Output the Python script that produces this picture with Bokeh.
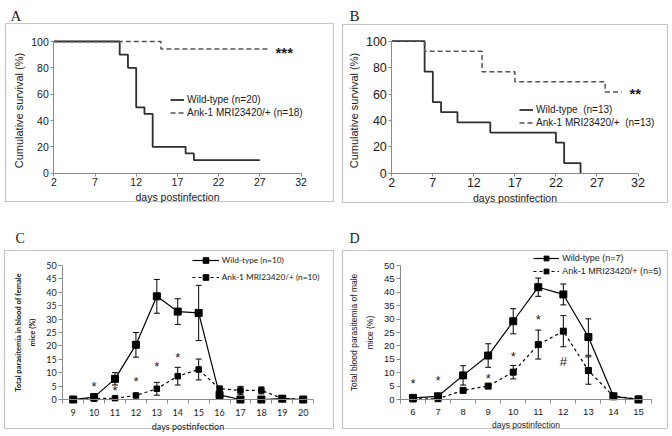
from bokeh.plotting import figure
from bokeh.layouts import gridplot
from bokeh.models import (LinearAxis, FixedTicker, BoxAnnotation, Label, Legend, LegendItem,
                          ColumnDataSource, Whisker, TeeHead, Range1d)
from bokeh.embed import file_html
from bokeh.resources import INLINE
from bokeh.core.properties import value

# ---------------- data ----------------
# Panel A: Kaplan-Meier survival (female)
A_wt_days = [2, 10, 11, 12, 13, 14, 18, 19, 27]
A_wt_surv = [100, 90, 80, 50, 45, 20, 15, 10, 10]
A_ank_days = [2, 15, 28]
A_ank_surv = [100, 94.4, 94.4]
# Panel B: Kaplan-Meier survival (male)
B_wt_days = [2, 6, 7, 8, 10, 14, 22, 23, 25]
B_wt_surv = [100, 76.9, 53.8, 46.2, 38.5, 30.8, 23.1, 7.7, 0]
B_ank_days = [2, 6, 13, 17, 28, 30]
B_ank_surv = [100, 92.3, 76.9, 69.2, 61.5, 61.5]
surv_ticks_x = [2, 7, 12, 17, 22, 27, 32]
surv_ticks_y = [0, 20, 40, 60, 80, 100]

# Panel C: parasitemia, female
C_days = [9, 10, 11, 12, 13, 14, 15, 16, 17, 18, 19, 20]
C_wt = [0, 0.9, 7.7, 20.4, 38.5, 32.8, 32.3, 1.7, 0, 0, 0.3, 0]
C_wt_err = [0, 0, 2.3, 4.6, 6.3, 4.8, 10.3, 0, 0, 0, 0, 0]
C_ank = [0, 0.3, 0.5, 1.5, 4.0, 8.7, 11.2, 4.0, 3.4, 3.4, 0.4, 0]
C_ank_err = [0, 0, 0, 0, 2.4, 3.3, 3.9, 1.0, 1.5, 1.3, 0, 0]
C_star_days = [10, 11, 12, 13, 14]
C_star_y = [5.0, 3.4, 6.7, 12.4, 15.8]

# Panel D: parasitemia, male
D_days = [6, 7, 8, 9, 10, 11, 12, 13, 14, 15]
D_wt = [0.6, 1.2, 9.0, 16.4, 29.2, 41.9, 39.2, 23.3, 1.2, 0]
D_wt_err = [0, 0, 3.6, 4.4, 4.7, 3.4, 3.9, 6.8, 0, 0]
D_ank = [0.2, 0.3, 3.4, 5.0, 10.2, 20.5, 25.5, 10.8, 1.2, 0.2]
D_ank_err = [0, 0, 0, 0, 2.5, 5.4, 5.8, 5.1, 0, 0]
D_star_days = [6, 7, 9, 10, 11]
D_star_y = [6.1, 7.1, 7.8, 16.2, 29.9]
D_hash_days = [12]
D_hash_y = [14.2]
para_ticks_y = [0, 5, 10, 15, 20, 25, 30, 35, 40, 45, 50]

# ---------------- layout helpers ----------------
W, H = 334, 216
AXC = "#8a8a8a"
TXT = "#1a1a1a"


class Map:
    """maps page pixels to data values for one panel"""
    def __init__(self, ox, oy, xa, xb, ya, yb):
        self.ox, self.oy = ox, oy
        (v0, p0), (v1, p1) = xa, xb
        self.sx, self.xv0, self.xp0 = (p1 - p0) / (v1 - v0), v0, p0
        (w0, q0), (w1, q1) = ya, yb
        self.sy, self.yv0, self.yq0 = (q1 - q0) / (w1 - w0), w0, q0

    def x(self, px):
        return self.xv0 + (px - self.xp0) / self.sx

    def y(self, py):
        return self.yv0 + (py - self.yq0) / self.sy

    def leg(self, left_px, bottom_px):
        return (left_px - self.ox, self.oy + H - bottom_px)


def make_fig(m, box, letter, letter_xy, letter_size):
    p = figure(width=W, height=H, output_backend="svg", toolbar_location=None, title=None,
               x_range=Range1d(m.x(m.ox), m.x(m.ox + W)),
               y_range=Range1d(m.y(m.oy + H), m.y(m.oy)),
               x_axis_location=None, y_axis_location=None,
               min_border=0, outline_line_color=None)
    p.grid.visible = False
    l, t, r, b = box
    l = max(l, m.ox + 1)
    r = min(r, m.ox + W - 1)
    b = min(b, m.oy + H - 1)
    p.add_layout(BoxAnnotation(left=m.x(l), right=m.x(r), top=m.y(t), bottom=m.y(b),
                               fill_color=None, line_color="#3a3a3a", line_width=1.2))
    p.add_layout(Label(x=m.x(letter_xy[0]), y=m.y(letter_xy[1]), text=letter,
                       text_font="Liberation Serif", text_font_size=letter_size,
                       text_color=TXT, text_baseline="alphabetic"))
    return p


def style_axis(ax, font, tick_size, label_size, label_style="normal", line_h=1.2):
    ax.axis_line_color = AXC
    ax.major_tick_line_color = AXC
    ax.minor_tick_line_color = AXC
    ax.major_label_text_font = font
    ax.major_label_text_font_size = tick_size
    ax.major_label_text_color = TXT
    ax.axis_label_text_font = font
    ax.axis_label_text_font_size = label_size
    ax.axis_label_text_font_style = label_style
    ax.axis_label_text_color = TXT
    ax.axis_label_text_line_height = line_h
    ax.major_tick_in = 0
    ax.minor_tick_in = 0


def survival_panel(m, box, letter, letter_xy, wt_x, wt_y, ank_x, ank_y, labels, star, star_xy,
                   leg_px, tick_size, ylabel):
    p = make_fig(m, box, letter, letter_xy, "15px")
    yax = LinearAxis(fixed_location=2, bounds=(0, 100), ticker=FixedTicker(ticks=surv_ticks_y),
                     axis_label=ylabel, major_tick_out=3, minor_tick_out=0,
                     major_label_standoff=2, axis_label_standoff=3)
    style_axis(yax, "Liberation Sans", tick_size, "11px")
    p.add_layout(yax, "left")
    xax = LinearAxis(fixed_location=0, bounds=(2, 32), ticker=FixedTicker(ticks=surv_ticks_x),
                     axis_label="days postinfection", major_tick_out=3, minor_tick_out=0,
                     major_label_standoff=2, axis_label_standoff=1)
    style_axis(xax, "Liberation Sans", tick_size, "10.5px")
    p.add_layout(xax, "below")
    r1 = p.step(wt_x, wt_y, mode="after", line_color="#2e2e2e", line_width=1.8)
    r2 = p.step(ank_x, ank_y, mode="after", line_color="#555555", line_width=1.5, line_dash="5 3")
    p.add_layout(Label(x=m.x(star_xy[0]), y=m.y(star_xy[1]), text=star, text_font="Liberation Sans",
                       text_font_size="15px", text_font_style="bold", text_color=TXT,
                       text_baseline="alphabetic"))
    leg = Legend(items=[LegendItem(label=labels[0], renderers=[r1]),
                        LegendItem(label=labels[1], renderers=[r2])],
                 location=m.leg(*leg_px), padding=0, margin=0, spacing=0,
                 glyph_width=14, glyph_height=13, label_height=13, label_standoff=3,
                 border_line_color=None, background_fill_alpha=0,
                 label_text_font="Liberation Sans", label_text_font_size="10px",
                 label_text_color=TXT)
    p.add_layout(leg)
    return p


def para_panel(m, box, letter, letter_xy, days, wt, wt_err, ank, ank_err, labels, font, sizes,
               ylabel, ylabel_style, leg_px, leg_h, row_gap, glyph_w, wt_size, ank_size, stars):
    tick_size, ylab_size, xlab_size, leg_size = sizes
    p = make_fig(m, box, letter, letter_xy, "14px")
    lo, hi = days[0] - 0.5, days[-1] + 0.5
    yax = LinearAxis(fixed_location=lo, bounds=(0, 50), ticker=FixedTicker(ticks=para_ticks_y),
                     axis_label=ylabel, major_tick_out=4, minor_tick_out=0,
                     major_label_standoff=2, axis_label_standoff=6)
    style_axis(yax, font, tick_size, ylab_size, ylabel_style, 1.55)
    p.add_layout(yax, "left")
    xax = LinearAxis(fixed_location=0, bounds=(lo, hi),
                     ticker=FixedTicker(ticks=days, minor_ticks=[d - 0.5 for d in days] + [hi]),
                     axis_label="days postinfection", major_tick_out=0, minor_tick_out=4,
                     major_label_standoff=5, axis_label_standoff=2)
    style_axis(xax, font, tick_size, xlab_size)
    p.add_layout(xax, "below")

    def whisk(vals, errs):
        xs = [d for d, e in zip(days, errs) if e > 0]
        up = [v + e for v, e in zip(vals, errs) if e > 0]
        dn = [v - e for v, e in zip(vals, errs) if e > 0]
        src = ColumnDataSource(dict(x=xs, up=up, dn=dn))
        p.add_layout(Whisker(source=src, base="x", upper="up", lower="dn", line_color="black",
                             line_width=1,
                             upper_head=TeeHead(size=6, line_color="black", line_width=1),
                             lower_head=TeeHead(size=6, line_color="black", line_width=1)))

    whisk(wt, wt_err)
    whisk(ank, ank_err)
    l1 = p.line(days, wt, line_color="black", line_width=1.2)
    s1 = p.scatter(days, wt, marker="square", size=wt_size, fill_color="black", line_color="black")
    l2 = p.line(days, ank, line_color="black", line_width=1.2, line_dash="3 3")
    s2 = p.scatter(days, ank, marker="square", size=ank_size, fill_color="black", line_color="black")
    for (sx, sy, ch) in stars:
        p.text(sx, sy, text=[ch] * len(sx), text_font=value("Liberation Sans"),
               text_font_size=value("13px"), text_color=TXT, text_align="center",
               text_baseline="middle", y_offset=0)
    leg = Legend(items=[LegendItem(label=labels[0], renderers=[l1, s1]),
                        LegendItem(label=labels[1], renderers=[l2, s2])],
                 location=m.leg(*leg_px), padding=0, margin=0, spacing=row_gap,
                 glyph_width=glyph_w, glyph_height=leg_h, label_height=leg_h, label_standoff=3,
                 border_line_color=None, background_fill_alpha=0,
                 label_text_font=font, label_text_font_size=leg_size, label_text_color=TXT)
    p.add_layout(leg)
    return p


# ---------------- panels ----------------
mA = Map(0, 0, (2, 53.3), (32, 300.5), (0, 172.7), (100, 41))
pA = survival_panel(mA, (5, 23, 333, 201), "A", (10, 15),
                    A_wt_days, A_wt_surv, A_ank_days, A_ank_surv,
                    ["Wild-type (n=20)", "Ank-1 MRI23420/+ (n=18)"], "***", (275, 52),
                    (170, 118.5), "10.5px", "Cumulative  survival  (%)")

mB = Map(W, 0, (2, 391.3), (32, 637.5), (0, 172.7), (100, 40.7))
pB = survival_panel(mB, (342, 24, 669, 202), "B", (349, 15),
                    B_wt_days, B_wt_surv, B_ank_days, B_ank_surv,
                    ["Wild-type  (n=13)", "Ank-1 MRI23420/+  (n=13)"], "**", (629, 93),
                    (519, 128.8), "12.5px", "Cumulative  survival  (%)")

mC = Map(0, H, (9, 72.7), (20, 302.7), (0, 399), (50, 265))
pC = para_panel(mC, (4, 250, 333, 428), "C", (15, 238),
                C_days, C_wt, C_wt_err, C_ank, C_ank_err,
                ["Wild-type (n=10)", "Ank-1 MRI23420/+ (n=10)"], "Lato",
                ("9px", "7.5px", "9px", "8.3px"),
                "Total parasitemia in blood of female\nmice (%)", "bold",
                (191.7, 284.3), 14, 3, 27, 7, 5.5,
                [(C_star_days, C_star_y, "*")])

mD = Map(W, H, (6, 412.5), (15, 638), (0, 399), (50, 265))
pD = para_panel(mD, (342, 250, 669, 428), "D", (349, 238),
                D_days, D_wt, D_wt_err, D_ank, D_ank_err,
                ["Wild-type (n=7)", "Ank-1 MRI23420/+ (n=5)"], "Liberation Sans",
                ("9.5px", "8.5px", "8.5px", "9px"),
                "Total blood parasitemia of male\nmice (%)", "normal",
                (533.3, 277.3), 12, 1, 26, 7, 6,
                [(D_star_days, D_star_y, "*"), (D_hash_days, D_hash_y, "#")])

grid = gridplot([[pA, pB], [pC, pD]], toolbar_location=None)
open("out.html", "w").write(file_html(grid, INLINE))
